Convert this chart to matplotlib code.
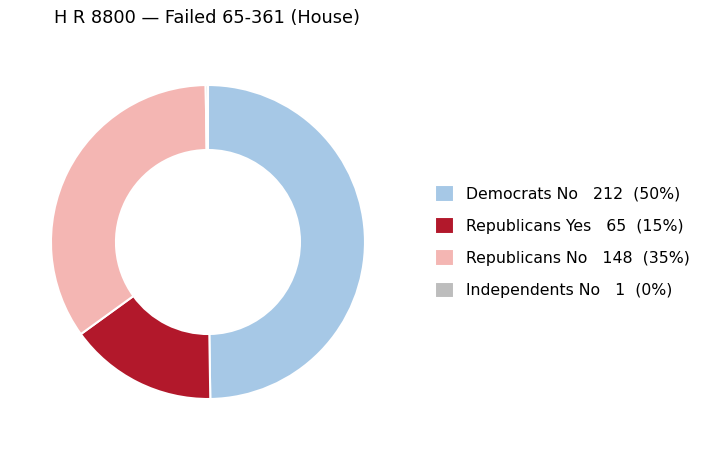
import matplotlib

matplotlib.use("Agg")
import matplotlib.pyplot as plt

# Vote breakdown
groups = ["Democrats No", "Republicans Yes", "Republicans No", "Independents No"]
votes = [212, 65, 148, 1]
colors = ["#a6c8e6", "#b2182b", "#f4b6b3", "#bdbdbd"]
title = "H R 8800 \u2014 Failed 65-361 (House)"

total = sum(votes)
labels = [
    f"{g}   {v}  ({round(v / total * 100):.0f}%)" for g, v in zip(groups, votes)
]

fig = plt.figure(figsize=(7.08, 4.5), dpi=100)
ax = fig.add_axes([0.072, 0.1133, 0.4435, 0.6978])

wedges, _ = ax.pie(
    votes,
    colors=colors,
    startangle=90,
    counterclock=False,
    wedgeprops=dict(width=0.414, edgecolor="white", linewidth=1.5),
)
ax.set_xlim(-1, 1)
ax.set_ylim(-1, 1)
ax.set_aspect("equal")

fig.text(0.076, 0.96, title, fontsize=12.8, ha="left", va="center")

fig.legend(
    wedges,
    labels,
    loc="center left",
    bbox_to_anchor=(0.614, 0.463),
    frameon=False,
    fontsize=11.3,
    handlelength=1.2,
    handleheight=1.2,
    handletextpad=0.8,
    labelspacing=1.0,
    borderpad=0,
    borderaxespad=0,
)

fig.savefig("out.png", dpi=100)
